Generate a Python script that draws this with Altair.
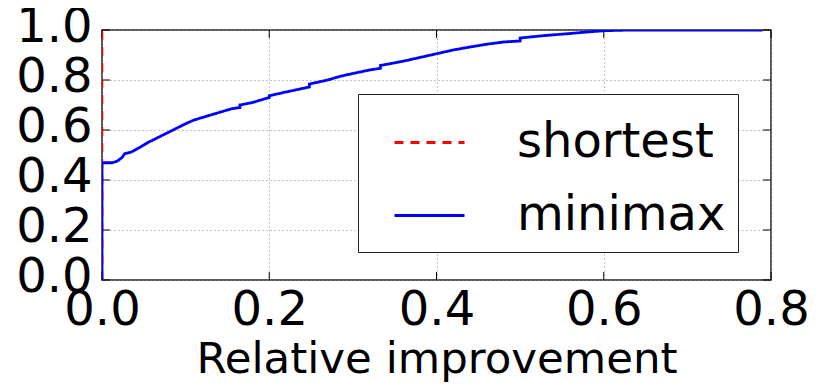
import altair as alt
import pandas as pd

# ---- data ----
series_names = ["shortest", "minimax"]

x_shortest = [0.0, 0.0]
y_shortest = [0.0, 1.0]

x_minimax = [0.0, 0.0, 0.012, 0.018, 0.024, 0.027, 0.035, 0.045, 0.055, 0.07,
             0.085, 0.1, 0.11, 0.125, 0.14, 0.155, 0.165, 0.165, 0.18, 0.2,
             0.2, 0.22, 0.248, 0.248, 0.27, 0.285, 0.30, 0.32, 0.333, 0.333,
             0.36, 0.38, 0.40, 0.42, 0.44, 0.46, 0.48, 0.50, 0.50, 0.53,
             0.56, 0.58, 0.60, 0.62, 0.65, 0.79]
y_minimax = [0.0, 0.469, 0.469, 0.475, 0.49, 0.505, 0.512, 0.53, 0.55, 0.575,
             0.60, 0.625, 0.64, 0.655, 0.67, 0.685, 0.69, 0.70, 0.71, 0.73,
             0.737, 0.752, 0.772, 0.784, 0.80, 0.815, 0.826, 0.84, 0.847, 0.858,
             0.875, 0.89, 0.905, 0.92, 0.932, 0.943, 0.952, 0.956, 0.968, 0.978,
             0.986, 0.992, 0.997, 0.999, 1.0, 1.0]

x_ticks = [0.0, 0.2, 0.4, 0.6, 0.8]
y_ticks = [0.0, 0.2, 0.4, 0.6, 0.8, 1.0]

W, H = 669, 250
FONT = "DejaVu Sans"
TICK = 8

df_short = pd.DataFrame({"x": x_shortest, "y": y_shortest, "series": series_names[0]})
df_short["order"] = range(len(df_short))
df_min = pd.DataFrame({"x": x_minimax, "y": y_minimax, "series": series_names[1]})
df_min["order"] = range(len(df_min))
df_xt = pd.DataFrame({"x": x_ticks})
df_yt = pd.DataFrame({"y": y_ticks})

xs = alt.Scale(domain=[0, 0.8], nice=False, zero=False)
ys = alt.Scale(domain=[0, 1], nice=False, zero=False)

x_axis = alt.Axis(values=x_ticks, format=".1f", title="Relative improvement",
                  labelFlush=False, labelOverlap=False, labelPadding=6,
                  titleFontSize=43.5, titlePadding=4)
y_axis = alt.Axis(values=y_ticks, format=".1f", title=None,
                  labelOverlap=False, labelPadding=10, labelOffset=-3)

X = alt.X("x:Q", scale=xs, axis=x_axis)
Y = alt.Y("y:Q", scale=ys, axis=y_axis)

legend = alt.Legend(orient="none", legendX=256, legendY=64, title=None,
                    symbolType="stroke", symbolSize=4900, symbolStrokeWidth=3,
                    labelFont=FONT, labelFontSize=48, labelColor="black", labelLimit=400,
                    labelOffset=51, padding=12, symbolOffset=23, rowPadding=12,
                    strokeColor="#222222", fillColor="white")

color = alt.Color("series:N", scale=alt.Scale(domain=series_names, range=["#ff0000", "#0000ff"]),
                  legend=legend)
dash = alt.StrokeDash("series:N", scale=alt.Scale(domain=series_names, range=[[9, 7], [1, 0]]),
                      legend=legend)

red = alt.Chart(df_short).mark_line(strokeWidth=2.5, clip=True).encode(
    x=X, y=Y, color=color, strokeDash=dash, order="order:Q")
blue = alt.Chart(df_min).mark_line(strokeWidth=2.8, clip=True).encode(
    x=X, y=Y, color=color, strokeDash=dash, order="order:Q")

tb = alt.Chart(df_xt).mark_rule(color="black", strokeWidth=1).encode(
    x=X, y=alt.value(H), y2=alt.value(H - TICK))
tt = alt.Chart(df_xt).mark_rule(color="black", strokeWidth=1).encode(
    x=X, y=alt.value(0), y2=alt.value(TICK))
tl = alt.Chart(df_yt).mark_rule(color="black", strokeWidth=1).encode(
    y=Y, x=alt.value(0), x2=alt.value(TICK))
tr = alt.Chart(df_yt).mark_rule(color="black", strokeWidth=1).encode(
    y=Y, x=alt.value(W), x2=alt.value(W - TICK))

chart = alt.layer(tb, tt, tl, tr, red, blue).properties(
    width=W, height=H,
    background="white",
    autosize=alt.AutoSizeParams(type="none"),
    padding={"left": 94, "top": 22, "right": 50, "bottom": 104},
).configure_view(
    stroke="#222222", strokeWidth=1.5
).configure_axis(
    domain=False, ticks=False, grid=True,
    gridColor="#888888", gridDash=[1, 3], gridWidth=1,
    labelFont=FONT, labelFontSize=48, labelColor="black",
    titleFont=FONT, titleColor="black", titleFontWeight="normal",
)

chart.save("out.html", embed_options={"renderer": "svg", "actions": False})
